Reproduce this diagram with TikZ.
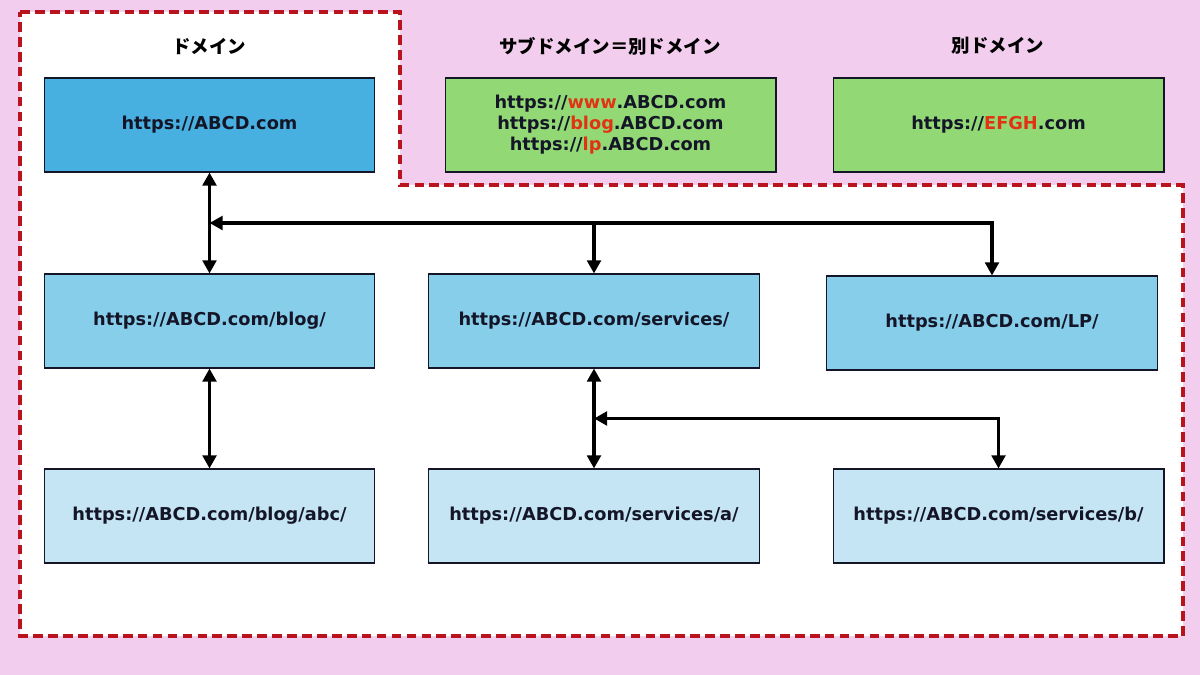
\documentclass[tikz,border=0pt]{standalone}
\usepackage{fontspec}
\setmainfont{DejaVu Sans}
\newfontfamily\jpfont{Noto Sans CJK JP}
\usepackage{xcolor}
\usetikzlibrary{arrows.meta, positioning, calc}
\definecolor{bgpink}{RGB}{242, 205, 238}
\definecolor{borderred}{RGB}{185, 20, 30}
\definecolor{rootblue}{RGB}{71, 176, 224}
\definecolor{midblue}{RGB}{135, 206, 235}
\definecolor{paleblue}{RGB}{197, 229, 245}
\definecolor{subgreen}{RGB}{146, 217, 117}
\definecolor{textdark}{RGB}{20, 22, 40}
\definecolor{hilite}{RGB}{226, 50, 20}

\tikzset{
    urlbox/.style={draw=textdark, line width=0.6pt, minimum width=6.62cm, minimum height=1.88cm,
        align=center, font=\bfseries\fontsize{10.1}{12}\selectfont, text=textdark},
    heading/.style={font=\jpfont\bfseries\fontsize{10.5}{12}\selectfont, text=black},
    link/.style={line width=2.1pt, -{Triangle[length=2.6mm, width=2.7mm]}},
    twoway/.style={line width=2.1pt, {Triangle[length=2.6mm, width=2.7mm]}-{Triangle[length=2.6mm, width=2.7mm]}}
}

\begin{document}
\begin{tikzpicture}[x=0.02cm, y=-0.02cm]
    % background and domain area
    \fill[bgpink] (0,0) rectangle (1200,675);
    \useasboundingbox (0,0) rectangle (1200,675);
    \draw[borderred, fill=white, line width=2.1pt, dash pattern=on 5.5pt off 3pt]
        (20,12) -- (400,12) -- (400,185) -- (1183,185) -- (1183,636) -- (20,636) -- cycle;

    % headings
    \node[heading] (hdomain) at (209,46) {ドメイン};
    \node[heading] (hsub) at (610,46) {サブドメイン＝別ドメイン};
    \node[heading] (hother) at (998,46) {別ドメイン};

    % top row
    \node[urlbox, fill=rootblue] (root) at (209.5,125) {https://ABCD.com};
    \node[urlbox, fill=subgreen] (subdom) at (610.5,125) {https://\textcolor{hilite}{www}.ABCD.com\\https://\textcolor{hilite}{blog}.ABCD.com\\https://\textcolor{hilite}{lp}.ABCD.com};
    \node[urlbox, fill=subgreen] (otherdom) at (998.5,125) {https://\textcolor{hilite}{EFGH}.com};

    % second row
    \node[urlbox, fill=midblue] (blog) at (209.5,321) {https://ABCD.com/blog/};
    \node[urlbox, fill=midblue] (services) at (594,321) {https://ABCD.com/services/};
    \node[urlbox, fill=midblue] (lp) at (992,323) {https://ABCD.com/LP/};

    % third row
    \node[urlbox, fill=paleblue] (blogabc) at (209.5,516) {https://ABCD.com/blog/abc/};
    \node[urlbox, fill=paleblue] (serva) at (594,516) {https://ABCD.com/services/a/};
    \node[urlbox, fill=paleblue] (servb) at (998.5,516) {https://ABCD.com/services/b/};

    % junctions
    \coordinate (busA) at ($(root.south)!0.5!(blog.north)$);
    \coordinate (busB) at ($(services.south)!0.5!(serva.north)$);

    % connectors
    \draw[twoway] (root.south) -- (blog.north);
    \draw[twoway] (busA) -| (lp.north);
    \draw[link] (services.north |- busA) -- (services.north);
    \draw[twoway] (blog.south) -- (blogabc.north);
    \draw[twoway] (services.south) -- (serva.north);
    \draw[twoway] (busB) -| (servb.north);
\end{tikzpicture}
\end{document}
